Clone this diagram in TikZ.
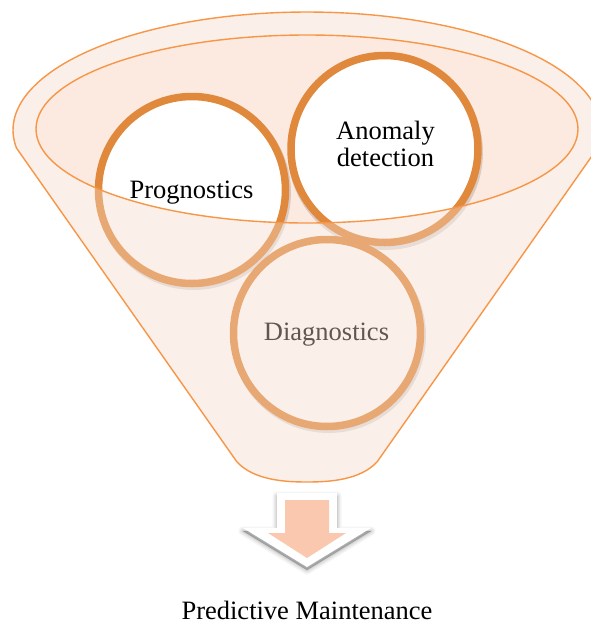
\documentclass[tikz,border=0pt]{standalone}
\usepackage{fontspec}
\setmainfont{Liberation Serif}

\definecolor{rimline}{HTML}{F79646}
\definecolor{mouthfill}{HTML}{FCE9DF}
\definecolor{ringdark}{HTML}{E0883C}
\definecolor{veil}{HTML}{F5D9CA}
\definecolor{arrowfill}{HTML}{F9C8AE}

\tikzset{
  ring/.style={circle, draw=ringdark, line width=7.5pt, fill=white,
    minimum size=187pt, inner sep=0pt},
  ringshadow/.style={draw=black, draw opacity=0.13, line width=8pt},
  label/.style={inner sep=0pt, anchor=base, text=black,
    font=\fontsize{26.5}{28}\selectfont},
  rimstroke/.style={draw=rimline, line width=1.4pt, line join=round},
}

\begin{document}
\begin{tikzpicture}[x=1pt, y=-1pt]
\path[use as bounding box, fill=white] (0,0) rectangle (591,625);

% mouth of the funnel
\fill[mouthfill] (307,129) ellipse [x radius=271, y radius=94];

% soft shadows under the rings
\draw[ringshadow] (193.5,192.5) circle [radius=93.5];
\draw[ringshadow] (385.5,152.5) circle [radius=93.5];
\draw[ringshadow] (328.5,335.5) circle [radius=93.5];

% the three rings
\node[ring] (prog) at (192,190) {};
\node[ring] (anom) at (384.5,149) {};
\node[ring] (diag) at (327,333) {};

\node[label] (progtxt) at (191.5,198) {Prognostics};
\node[label] (anomtxt1) at (385.5,139) {Anomaly};
\node[label] (anomtxt2) at (385.5,166) {detection};
\node[label] (diagtxt) at (326.5,340) {Diagnostics};

% translucent front of the funnel (everything outside the mouth)
\fill[veil, fill opacity=0.4, even odd rule]
  plot[domain=171.2:368.8, samples=120] ({307+294*cos(\x)}, {130+118*sin(\x)})
  -- (377,462) .. controls (360,480) and (330,482) .. (307,482)
  .. controls (284,482) and (254,480) .. (237,462) -- cycle
  (307,129) ellipse [x radius=271, y radius=94];

% funnel outlines
\draw[rimstroke]
  plot[domain=171.2:368.8, samples=120] ({307+294*cos(\x)}, {130+118*sin(\x)})
  -- (377,462) .. controls (360,480) and (330,482) .. (307,482)
  .. controls (284,482) and (254,480) .. (237,462) -- cycle;
\draw[rimstroke] (307,129) ellipse [x radius=271, y radius=94];

% down arrow with a soft shadow
\begin{scope}[shift={(0,3)}]
  \foreach \w/\o in {9/0.04, 6/0.05, 3/0.07, 0.5/0.1}
    \filldraw[black, opacity=\o, line width=\w pt, line join=round]
      (277,493) -- (337,493) -- (337,528) -- (371,528) -- (307,567)
      -- (243,528) -- (277,528) -- cycle;
\end{scope}
\fill[white] (277,493) -- (337,493) -- (337,528) -- (371,528) -- (307,567)
  -- (243,528) -- (277,528) -- cycle;
\fill[arrowfill] (285,500) -- (329,500) -- (329,533) -- (346,533) -- (307,558)
  -- (268,533) -- (285,533) -- cycle;

\node[label] (result) at (307,619) {Predictive Maintenance};
\end{tikzpicture}
\end{document}
